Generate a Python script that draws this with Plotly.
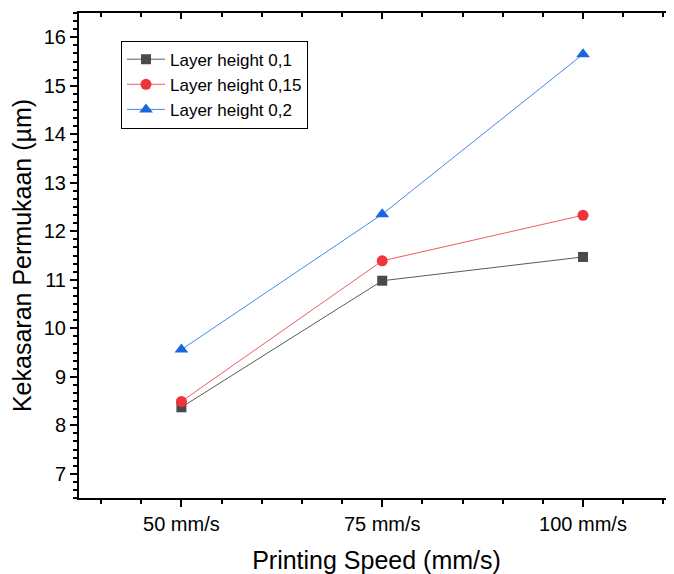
import plotly.graph_objects as go

categories = ["50 mm/s", "75 mm/s", "100 mm/s"]
series_names = ["Layer height 0,1", "Layer height 0,15", "Layer height 0,2"]
lh_01 = [8.37, 10.98, 11.47]
lh_015 = [8.49, 11.39, 12.33]
lh_02 = [9.56, 12.35, 15.65]
y_ticks = [7, 8, 9, 10, 11, 12, 13, 14, 15, 16]

xpos = list(range(len(categories)))
font = "Liberation Sans, Arial, sans-serif"

styles = [
    dict(mcolor="#4a4a4a", lcolor="#5a5a5a", symbol="square", size=10),
    dict(mcolor="#f0343c", lcolor="#f25a60", symbol="circle", size=11),
    dict(mcolor="#1a66e0", lcolor="#4a88e8", symbol="triangle-up", size=12),
]

fig = go.Figure()
for name, vals, st in zip(series_names, [lh_01, lh_015, lh_02], styles):
    fig.add_trace(go.Scatter(
        x=xpos, y=vals, name=name, mode="lines+markers",
        line=dict(color=st["lcolor"], width=1),
        marker=dict(color=st["mcolor"], symbol=st["symbol"], size=st["size"],
                    line=dict(width=0)),
    ))

# invisible trace so the top axis (inside ticks) is drawn
fig.add_trace(go.Scatter(x=xpos, y=lh_01, xaxis="x2", mode="markers",
                         marker=dict(opacity=0), showlegend=False, hoverinfo="skip"))

xr = [-0.51, 2.453]
fig.update_layout(
    width=666, height=566,
    margin=dict(l=71, r=0, t=4.5, b=75.5, autoexpand=False),
    plot_bgcolor="white", paper_bgcolor="white",
    font=dict(family=font, color="black"),
    showlegend=True,
    legend=dict(x=0.0706, y=0.943, xanchor="left", yanchor="top",
                bordercolor="black", borderwidth=1, bgcolor="white",
                font=dict(size=17, family=font), tracegroupgap=0,
                itemwidth=38),
    xaxis=dict(
        range=xr, tickvals=xpos, ticktext=categories, automargin=False,
        showgrid=False, zeroline=False, showline=True, linecolor="black", linewidth=2,
        ticks="outside", ticklen=7, tickwidth=2, tickcolor="black",
        minor=dict(dtick=0.2, tick0=0, ticks="outside", ticklen=4, tickwidth=2, tickcolor="black"),
        tickfont=dict(size=20), title=dict(text="Printing Speed (mm/s)", font=dict(size=25), standoff=21),
    ),
    xaxis2=dict(
        range=xr, overlaying="x", side="top", tickvals=xpos, showticklabels=False, automargin=False,
        showgrid=False, zeroline=False, showline=True, linecolor="black", linewidth=2,
        ticks="inside", ticklen=6, tickwidth=2, tickcolor="black",
        minor=dict(dtick=0.2, tick0=0, ticks="inside", ticklen=4, tickwidth=2, tickcolor="black"),
    ),
    yaxis=dict(
        range=[6.5, 16.5], tickvals=y_ticks, automargin=False,
        showgrid=False, zeroline=False, showline=True, linecolor="black", linewidth=2,
        ticks="outside", ticklen=7, tickwidth=2, tickcolor="black",
        minor=dict(dtick=1/6, tick0=7, ticks="outside", ticklen=4, tickwidth=2, tickcolor="black"),
        tickfont=dict(size=20), title=dict(text="Kekasaran Permukaan (µm)", font=dict(size=25), standoff=5),
    ),
)

fig.write_html("out.html")
